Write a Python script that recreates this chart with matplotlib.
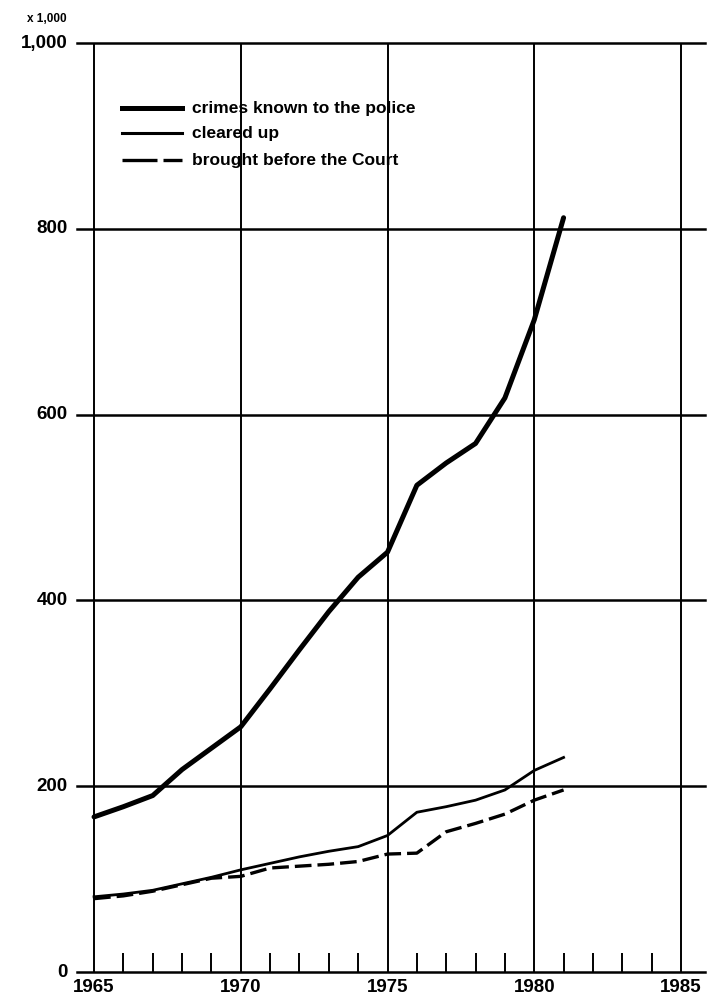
import matplotlib
matplotlib.use("Agg")
import matplotlib.pyplot as plt

plt.rcParams["font.family"] = ["Liberation Sans", "DejaVu Sans"]

# Data (x 1,000)
years = [1965, 1966, 1967, 1968, 1969, 1970, 1971, 1972, 1973, 1974,
         1975, 1976, 1977, 1978, 1979, 1980, 1981]
known = [167, 178, 190, 218, 241, 264, 305, 347, 388, 425,
         452, 524, 548, 569, 618, 702, 812]
cleared = [81, 84, 88, 95, 102, 110, 117, 124, 130, 135,
           147, 172, 178, 185, 196, 217, 231]
court = [79, 82, 87, 94, 101, 103, 112, 114, 116, 119,
         127, 128, 151, 160, 170, 185, 196]

series_labels = ["crimes known to the police", "cleared up",
                 "brought before the Court"]
y_ticks = [0, 200, 400, 600, 800, 1000]
y_tick_labels = ["0", "200", "400", "600", "800", "1,000"]
x_major = [1965, 1970, 1975, 1980, 1985]

fig = plt.figure(figsize=(7.08, 10.02), dpi=100)
ax = fig.add_axes([0.1088, 0.0299, 0.887, 0.9271])
ax.set_xlim(1964.42, 1985.82)
ax.set_ylim(0, 1000)
for s in ax.spines.values():
    s.set_visible(False)
ax.set_xticks([])
ax.set_yticks([])

# horizontal grid across the full width
for v in y_ticks:
    ax.axhline(v, color="black", lw=1.8, clip_on=False, zorder=1)
# vertical grid at every 5 years
for yr in x_major:
    ax.vlines(yr, 0, 1000, color="black", lw=1.4, zorder=1)
# small year ticks
minor = [y for y in range(1966, 1985) if y % 5 != 0]
ax.vlines(minor, 0, 20, color="black", lw=1.4, zorder=1)

# series
ax.plot(years, known, color="black", lw=3.6, solid_capstyle="round", zorder=3)
ax.plot(years, cleared, color="black", lw=2.0, zorder=3)
ax.plot(years, court, color="black", lw=2.4, dashes=(5, 1.8), zorder=3)

# tick labels
for v, lab in zip(y_ticks, y_tick_labels):
    ax.text(-0.015, v, lab, transform=ax.get_yaxis_transform(),
            ha="right", va="center", fontsize=13.5, fontweight="bold")
for yr in x_major:
    ax.text(yr, -0.008, str(yr), transform=ax.get_xaxis_transform(),
            ha="center", va="top", fontsize=13.5, fontweight="bold")
ax.text(-0.048, 1.026, "x 1,000", transform=ax.transAxes,
        ha="center", va="center", fontsize=8.5, fontweight="bold")

# legend drawn by hand like the original
leg_y = [0.930, 0.903, 0.874]
styles = [dict(lw=3.6), dict(lw=2.2), dict(lw=2.4, dashes=(10.5, 1.8))]
for yy, lab, st in zip(leg_y, series_labels, styles):
    ax.plot([0.0717, 0.167], [yy, yy], transform=ax.transAxes,
            color="black", **st)
    ax.text(0.183, yy, lab, transform=ax.transAxes, ha="left",
            va="center", fontsize=12.5, fontweight="bold")

fig.savefig("out.png", dpi=100)
